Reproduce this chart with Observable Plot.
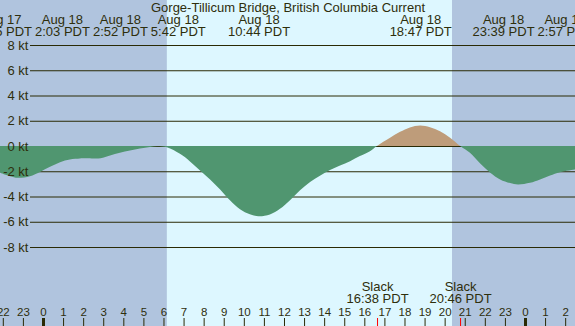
<!DOCTYPE html>
<html><head><meta charset="utf-8">
<script src="https://cdn.jsdelivr.net/npm/d3@7"></script>
<script src="https://cdn.jsdelivr.net/npm/@observablehq/plot@0.6"></script>
<style>html,body{margin:0;padding:0;background:#fff} svg{display:block}</style>
</head><body><div id="chart"></div>
<script>
// ---- data ----
const title = "Gorge-Tillicum Bridge, British Columbia Current";
// visible window, hours relative to Aug 18 00:00 PDT
const windowStart = -2.14;
const windowEnd = 26.49;
const sunrise = "6:10";
const sunset = "20:22";
// current speed (kt), hours relative to Aug 18 00:00 PDT
const hours = [-2.14,-1.64,-1.25,-0.65,-0.15,0.35,0.85,1.34,1.84,2.05,2.45,2.87,3.34,3.83,4.33,4.83,5.33,5.7,6.17,6.82,7.32,7.82,8.32,8.82,9.31,9.81,10.3,10.73,11.3,11.8,12.3,12.8,13.3,13.79,14.29,14.79,15.29,15.78,16.28,16.63,17.28,17.78,18.27,18.78,19.27,19.77,20.27,20.77,21.26,21.77,22.27,22.76,23.26,23.65,24.25,24.75,25.25,25.74,26.49];
const knots = [-2.12,-2.39,-2.52,-2.39,-2.05,-1.65,-1.28,-1.07,-0.99,-0.98,-0.99,-0.97,-0.75,-0.54,-0.36,-0.2,-0.07,-0.02,-0.1,-0.62,-1.22,-1.95,-2.65,-3.45,-4.3,-5.0,-5.4,-5.56,-5.42,-4.98,-4.3,-3.5,-2.85,-2.35,-1.9,-1.54,-1.2,-0.8,-0.41,0,0.65,1.12,1.47,1.62,1.49,1.17,0.65,0,-0.54,-1.39,-2.12,-2.65,-2.94,-3.05,-2.92,-2.65,-2.34,-2.07,-1.86];
const eventDay = ["Aug 17","Aug 18","Aug 18","Aug 18","Aug 18","Aug 18","Aug 18","Aug 19"];
const eventTime = ["22:45","2:03","2:52","5:42","10:44","18:47","23:39","2:57"];
const slackTime = ["16:38","20:46"];
const hourTicks = d3.range(-2, 27);
const yTicks = [8,6,4,2,0,-2,-4,-6,-8];

// ---- helpers ----
const W = 575, H = 326;
const font = "'Liberation Sans', Arial, sans-serif";
const textColor = "#2e2e0c";
const lineColor = "#2a2a05";
const ebbColor = "#509670", floodColor = "#be9c7a";
const dayOffset = {"Aug 17": -24, "Aug 18": 0, "Aug 19": 24};
const parseT = s => { const [h, m] = s.split(":").map(Number); return h + m / 60; };

const series = hours.map((h, i) => ({h, v: knots[i]}));
const sunriseH = parseT(sunrise), sunsetH = parseT(sunset);
const nights = [{x1: windowStart, x2: sunriseH}, {x1: sunsetH, x2: windowEnd}];
const days = [{x1: sunriseH, x2: sunsetH}];

// label layout: keep event labels from overlapping
const xs = d3.scaleLinear([windowStart, windowEnd], [0, W]);
const ctx = document.createElement("canvas").getContext("2d");
ctx.font = "13px 'Liberation Sans'";
const events = eventDay.map((d, i) => {
  const h = parseT(eventTime[i]) + dayOffset[d];
  const line2 = eventTime[i] + " PDT";
  return {h, label: d + "\n" + line2, c: xs(h),
          w: Math.max(ctx.measureText(d).width, ctx.measureText(line2).width)};
});
const gap = 3, maxOverhang = 17;
for (let it = 0; it < 2000; it++) {
  for (const e of events) e.c = Math.min(e.c, W + maxOverhang - e.w / 2);
  for (let i = 0; i < events.length - 1; i++) {
    const a = events[i], b = events[i + 1];
    const need = (a.w + b.w) / 2 + gap, d = b.c - a.c;
    if (d < need) { const s = (need - d) / 2; a.c -= s; b.c += s; }
  }
}
events.forEach(e => e.lx = xs.invert(e.c));
const slacks = slackTime.map(t => ({h: parseT(t), label: "Slack\n" + t + " PDT"}));

// gradient that colours flood (above 0) and ebb (below 0)
const zeroFill = (index, scales) => {
  const y0 = scales.y(0);
  const svg = d3.create("svg:defs");
  const g = svg.append("linearGradient").attr("id", "ebbflood")
    .attr("gradientUnits", "userSpaceOnUse").attr("x1", 0).attr("x2", 0).attr("y1", 0).attr("y2", H);
  g.append("stop").attr("offset", y0 / H).attr("stop-color", floodColor);
  g.append("stop").attr("offset", y0 / H).attr("stop-color", ebbColor);
  return svg.node();
};

const chart = Plot.plot({
  width: W, height: H, margin: 0,
  x: {domain: [windowStart, windowEnd], range: [0, W], axis: null},
  y: {domain: [-8, 8], range: [247, 45], axis: null},
  style: {fontFamily: font, background: "#b0c4de", overflow: "hidden"},
  marks: [
    zeroFill,
    Plot.rect(nights, {x1: "x1", x2: "x2", fill: "#b0c4de"}),
    Plot.rect(days, {x1: "x1", x2: "x2", fill: "#ddf7ff"}),
    Plot.ruleY(yTicks, {y: d => d, stroke: lineColor, insetLeft: 30}),
    Plot.areaY(series, {x: "h", y1: 0, y2: "v", fill: "url(#ebbflood)", curve: "catmull-rom"}),
    Plot.text(yTicks, {y: d => d, frameAnchor: "left", text: d => `${d} kt`, textAnchor: "end", dx: 28, fontSize: 13, fill: textColor}),
    Plot.text([title], {frameAnchor: "top", text: d => d, lineAnchor: "top", dy: 2, fontSize: 13, fill: textColor}),
    Plot.text(events, {x: "lx", frameAnchor: "top", text: "label", lineAnchor: "top", dy: 15.5, lineHeight: 0.88, fontSize: 13, fill: textColor}),
    Plot.text(slacks, {x: "h", frameAnchor: "bottom", text: "label", lineAnchor: "top", dy: -43.5, lineHeight: 0.89, fontSize: 13, fill: textColor}),
    Plot.text(hourTicks, {x: d => d, frameAnchor: "bottom", text: d => String(((d % 24) + 24) % 24), lineAnchor: "top", dy: -18.5, fontSize: 11.5, fill: textColor}),
    Plot.tickX(hourTicks, {x: d => d, insetTop: 318, stroke: lineColor, strokeWidth: d => (d % 24 === 0 ? 3 : 1)}),
    Plot.tickX(slacks, {x: "h", insetTop: 318, stroke: "#ff0000", strokeWidth: 1})
  ]
});
document.getElementById("chart").appendChild(chart);
</script>
</body></html>
